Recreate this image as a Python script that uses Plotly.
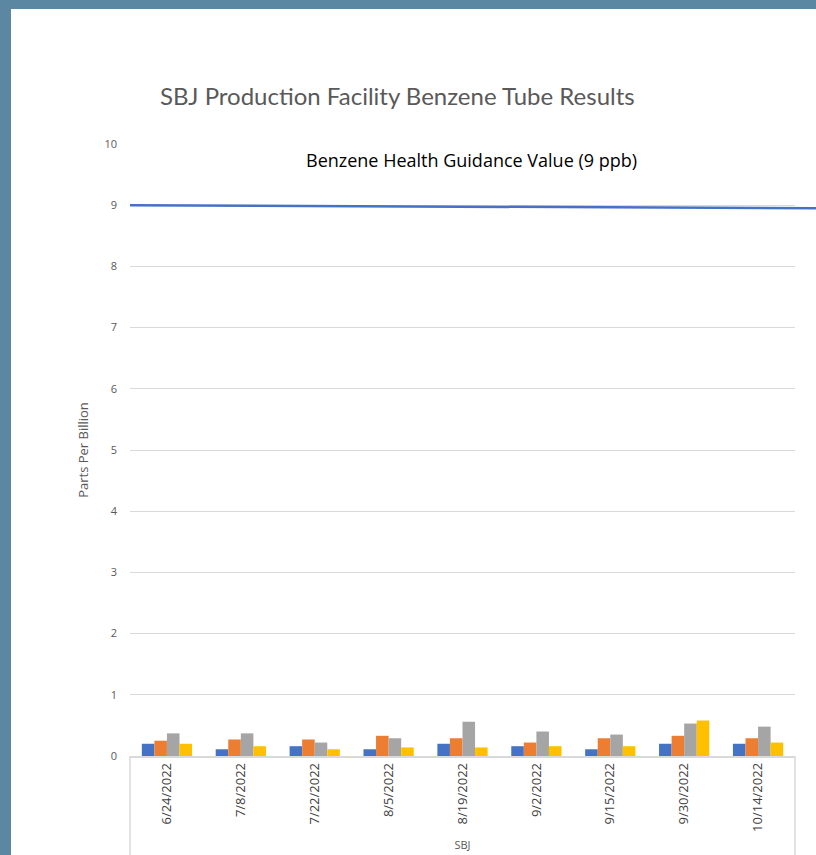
import plotly.graph_objects as go

dates = ["6/24/2022", "7/8/2022", "7/22/2022", "8/5/2022", "8/19/2022",
         "9/2/2022", "9/15/2022", "9/30/2022", "10/14/2022"]
series_names = ["Series1", "Series2", "Series3", "Series4"]
s1 = [0.20, 0.11, 0.16, 0.11, 0.20, 0.16, 0.11, 0.20, 0.20]
s2 = [0.25, 0.27, 0.27, 0.33, 0.29, 0.22, 0.29, 0.33, 0.29]
s3 = [0.37, 0.37, 0.22, 0.29, 0.56, 0.40, 0.35, 0.53, 0.48]
s4 = [0.20, 0.16, 0.11, 0.14, 0.14, 0.16, 0.16, 0.58, 0.22]
colors = ["#4472C4", "#ED7D31", "#A5A5A5", "#FFC000"]
guidance_value = 9
y_ticks = list(range(0, 11))

W, H = 816, 855
L, R, T, B = 130, 795, 144, 756

fig = go.Figure()
for name, vals, c in zip(series_names, [s1, s2, s3, s4], colors):
    fig.add_trace(go.Bar(x=dates, y=vals, name=name, marker=dict(color=c, line=dict(width=0)),
                         showlegend=False))

pw = R - L
ph = B - T
shapes = [
    # white card over slate border
    dict(type="rect", xref="paper", yref="paper",
         x0=(11 - L) / pw, x1=(W - L) / pw + 0.01,
         y0=-(H - B) / ph - 0.02, y1=(B - 9) / ph,
         fillcolor="white", line=dict(width=0), layer="below"),
    # category table verticals
    dict(type="line", xref="paper", yref="paper", x0=0, x1=0,
         y0=0, y1=-(H - B) / ph - 0.02, line=dict(color="#D9D9D9", width=1.5)),
    dict(type="line", xref="paper", yref="paper", x0=1, x1=1,
         y0=0, y1=-(H - B) / ph - 0.02, line=dict(color="#D9D9D9", width=1.5)),
    # guidance line
    dict(type="line", xref="paper", yref="y", x0=0, x1=(W - L) / pw + 0.01,
         y0=guidance_value, y1=guidance_value - 0.05,
         line=dict(color="#4472C4", width=2.5)),
]

fig.update_layout(
    width=W, height=H,
    margin=dict(l=L, r=W - R, t=T, b=H - B, pad=0),
    paper_bgcolor="#5B87A2",
    plot_bgcolor="rgba(0,0,0,0)",
    barmode="group",
    bargap=0.32,
    bargroupgap=0,
    shapes=shapes,
    font=dict(family="Open Sans, sans-serif", color="#595959"),
    xaxis=dict(
        tickangle=-90, tickfont=dict(size=13, color="#404040", family="Open Sans"),
        showline=True, linecolor="#D9D9D9", linewidth=1.5,
        ticks="", showgrid=False, range=[-0.5, 8.5], automargin=False,
        title=dict(text="SBJ", font=dict(size=11, color="#595959"), standoff=10),
    ),
    yaxis=dict(
        range=[0, 10], tickvals=y_ticks, ticktext=[str(v) for v in y_ticks],
        tickfont=dict(size=11, color="#595959"), automargin=False,
        ticklabelstandoff=12,
        gridcolor="#D9D9D9", gridwidth=1, zeroline=False, ticks="",
        showline=False,
        title=dict(text="Parts Per Billion", font=dict(size=13, color="#595959"), standoff=12),
    ),
    annotations=[
        dict(text="SBJ Production Facility Benzene Tube Results", xref="paper", yref="paper",
             x=(397 - L) / pw, y=(B - 95) / ph, xanchor="center", yanchor="middle",
             showarrow=False, font=dict(size=24, color="#595959", family="Lato, Open Sans")),
        dict(text="Benzene Health Guidance Value (9 ppb)", xref="paper", yref="paper",
             x=(471 - L) / pw, y=(B - 160) / ph, xanchor="center", yanchor="middle",
             showarrow=False, font=dict(size=18, color="#000000", family="Open Sans")),
    ],
)

fig.write_html("out.html", config={"displayModeBar": False},
               post_script="document.body.style.margin='0';document.body.style.overflow='hidden';")
